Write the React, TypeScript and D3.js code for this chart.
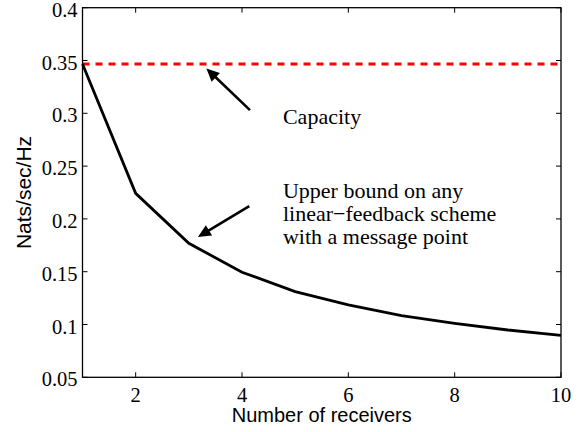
import React from "react";
import * as d3 from "d3";

const receivers = [1, 2, 3, 4, 5, 6, 7, 8, 9, 10];
const upperBound = [0.3466, 0.2242, 0.1769, 0.1495, 0.1311, 0.1185, 0.1083, 0.1011, 0.0948, 0.0898];
const capacity = 0.3466;
const xTicks = [2, 4, 6, 8, 10];
const yTicks = [0.05, 0.1, 0.15, 0.2, 0.25, 0.3, 0.35, 0.4];
const yTickLabels = ["0.05", "0.1", "0.15", "0.2", "0.25", "0.3", "0.35", "0.4"];
const capacityLabel = ["Capacity"];
const boundLabel = ["Upper bound on any", "linear\u2212feedback scheme", "with a message point"];
// arrows in data coords: [fromX, fromY, toX, toY]
const arrows = [
  [4.15, 0.303, 3.33, 0.3425],
  [4.137, 0.2122, 3.17, 0.1828],
];

const W = 585;
const H = 432;
const M = { left: 82.5, right: 24, top: 7.7, bottom: 54.7 };

export default function App() {
  const x = d3.scaleLinear().domain([1, 10]).range([M.left, W - M.right]);
  const y = d3.scaleLinear().domain([0.05, 0.4]).range([H - M.bottom, M.top]);
  const line = d3
    .line<number>()
    .x((_, i) => x(receivers[i]))
    .y((d) => y(d));
  const serif = "'Liberation Serif', 'Times New Roman', serif";
  const sans = "'Liberation Sans', Arial, sans-serif";
  const x0 = x.range()[0], x1 = x.range()[1];
  const y0 = y.range()[0], y1 = y.range()[1];
  const tl = 5;

  const arrowEls = arrows.map((a, i) => {
    const sx = x(a[0]), sy = y(a[1]), tx = x(a[2]), ty = y(a[3]);
    const ang = Math.atan2(ty - sy, tx - sx);
    const hl = 13, hw = 6;
    const bx = tx - hl * Math.cos(ang), by = ty - hl * Math.sin(ang);
    const px = -Math.sin(ang) * hw, py = Math.cos(ang) * hw;
    return (
      <g key={i}>
        <line x1={sx} y1={sy} x2={bx + 2 * Math.cos(ang)} y2={by + 2 * Math.sin(ang)} stroke="#000" strokeWidth={2.6} />
        <polygon points={`${tx},${ty} ${bx + px},${by + py} ${bx - px},${by - py}`} fill="#000" />
      </g>
    );
  });

  return (
    <svg width={W} height={H} style={{ position: "absolute", left: 0, top: 0, background: "#fff" }}>
      <rect x={0} y={0} width={W} height={H} fill="#fff" />
      {xTicks.map((t) => (
        <g key={"xt" + t}>
          <line x1={x(t)} x2={x(t)} y1={y0} y2={y0 - tl} stroke="#000" strokeWidth={1} />
          <line x1={x(t)} x2={x(t)} y1={y1} y2={y1 + tl} stroke="#000" strokeWidth={1} />
          <text x={x(t)} y={y0 + 24.5} textAnchor="middle" fontFamily={serif} fontSize={20.5} fill="#000">
            {t}
          </text>
        </g>
      ))}
      {yTicks.map((t, i) => (
        <g key={"yt" + t}>
          <line x1={x0} x2={x0 + tl} y1={y(t)} y2={y(t)} stroke="#000" strokeWidth={1} />
          <line x1={x1} x2={x1 - tl} y1={y(t)} y2={y(t)} stroke="#000" strokeWidth={1} />
          <text x={x0 - 5} y={y(t) + 9} textAnchor="end" fontFamily={serif} fontSize={20.5} fill="#000">
            {yTickLabels[i]}
          </text>
        </g>
      ))}
      <line x1={x0} x2={x1} y1={y(capacity)} y2={y(capacity)} stroke="#ff0000" strokeWidth={3} strokeDasharray="7,6" />
      <path d={line(upperBound) || ""} fill="none" stroke="#000" strokeWidth={2.8} strokeLinejoin="miter" />
      <rect x={x0} y={y1} width={x1 - x0} height={y0 - y1} fill="none" stroke="#000" strokeWidth={1.3} />
      {arrowEls}
      <text x={x(4.77)} y={y(0.2897)} fontFamily={serif} fontSize={22} fill="#000">
        {capacityLabel[0]}
      </text>
      {boundLabel.map((s, i) => (
        <text key={s} x={x(4.77)} y={y(0.2202) + i * 23.3} fontFamily={serif} fontSize={22} fill="#000">
          {s}
        </text>
      ))}
      <text x={(x0 + x1) / 2} y={H - 10} textAnchor="middle" fontFamily={sans} fontSize={20} fill="#000">
        Number of receivers
      </text>
      <text
        transform={`translate(${30.5},${(y0 + y1) / 2}) rotate(-90)`}
        textAnchor="middle"
        fontFamily={sans}
        fontSize={21}
        fill="#000"
      >
        Nats/sec/Hz
      </text>
    </svg>
  );
}
